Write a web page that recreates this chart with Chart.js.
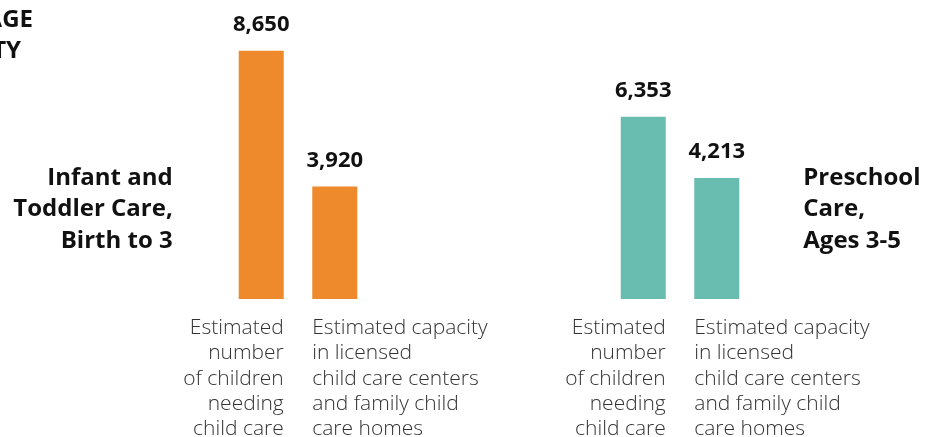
<!DOCTYPE html>
<html>
<head>
<meta charset="utf-8">
<script src="https://cdn.jsdelivr.net/npm/chart.js@4/dist/chart.umd.min.js"></script>
<style>
  html, body { margin: 0; padding: 0; background: #fff; }
  #wrap { width: 926px; height: 437px; position: relative; }
</style>
</head>
<body>
<div id="wrap"><canvas id="gapChart"></canvas></div>
<script>
// groups (age bands) and the two measures per group
const groups = ['Infant and Toddler Care, Birth to 3', 'Preschool Care, Ages 3-5'];
const groupLines = [['Infant and', 'Toddler Care,', 'Birth to 3'], ['Preschool', 'Care,', 'Ages 3-5']];
const childrenNeeding = [8650, 6353];
const licensedCapacity = [3920, 4213];
const needLabel = ['Estimated', 'number', 'of children', 'needing', 'child care'];
const capacityLabel = ['Estimated capacity', 'in licensed', 'child care centers', 'and family child', 'care homes'];
const groupColors = ['#EE8A2B', '#69BDB0'];

const boldFont = '"Open Sans", "Noto Sans", sans-serif';

// draws value labels, bar captions, group names and the clipped heading
const annotate = {
  id: 'annotate',
  afterDatasetsDraw(chart) {
    const ctx = chart.ctx;
    const area = chart.chartArea;
    ctx.save();

    // numbers above bars
    ctx.fillStyle = '#111';
    ctx.font = 'bold 22px ' + boldFont;
    ctx.textAlign = 'center';
    ctx.textBaseline = 'middle';
    chart.data.datasets.forEach((ds, di) => {
      chart.getDatasetMeta(di).data.forEach((bar, i) => {
        ctx.fillText(ds.data[i].toLocaleString('en-US'), bar.x, bar.y - 26);
      });
    });

    // captions under bars
    ctx.fillStyle = '#333';
    ctx.font = '300 21px ' + boldFont;
    const needBars = chart.getDatasetMeta(0).data;
    const capBars = chart.getDatasetMeta(1).data;
    needBars.forEach((bar, i) => {
      ctx.textAlign = 'right';
      needLabel.forEach((line, li) => {
        ctx.fillText(line, bar.x + bar.width / 2, area.bottom + 29 + li * 25.3);
      });
      const cb = capBars[i];
      ctx.textAlign = 'left';
      capacityLabel.forEach((line, li) => {
        ctx.fillText(line, cb.x - cb.width / 2, area.bottom + 29 + li * 25.3);
      });
    });

    // group names beside each pair
    ctx.fillStyle = '#111';
    ctx.font = 'bold 24px ' + boldFont;
    const left = needBars[0];
    ctx.textAlign = 'right';
    groupLines[0].forEach((line, li) => {
      ctx.fillText(line, left.x - left.width / 2 - 66, area.bottom - 121 + li * 31.5);
    });
    const right = capBars[1];
    ctx.textAlign = 'left';
    groupLines[1].forEach((line, li) => {
      ctx.fillText(line, right.x + right.width / 2 + 64, area.bottom - 121 + li * 31.5);
    });

    // heading, cut off by the left edge
    ctx.textAlign = 'right';
    ctx.fillText('CHILD CARE SHORTAGE', 33, 20);
    ctx.fillText('CAPACITY', 21, 51);

    ctx.restore();
  }
};

new Chart(document.getElementById('gapChart'), {
  type: 'bar',
  data: {
    labels: groups,
    datasets: [
      { label: 'Estimated number of children needing child care', data: childrenNeeding, backgroundColor: groupColors },
      { label: 'Estimated capacity in licensed child care centers and family child care homes', data: licensedCapacity, backgroundColor: groupColors }
    ]
  },
  options: {
    responsive: true,
    maintainAspectRatio: false,
    animation: false,
    layout: { padding: { top: 12, bottom: 138, left: 107, right: 55 } },
    datasets: { bar: { categoryPercentage: 0.385, barPercentage: 0.612 } },
    plugins: { legend: { display: false }, tooltip: { enabled: false } },
    scales: {
      x: { display: false },
      y: { display: false, min: 0, max: 10000 }
    }
  },
  plugins: [annotate]
});
</script>
</body>
</html>
